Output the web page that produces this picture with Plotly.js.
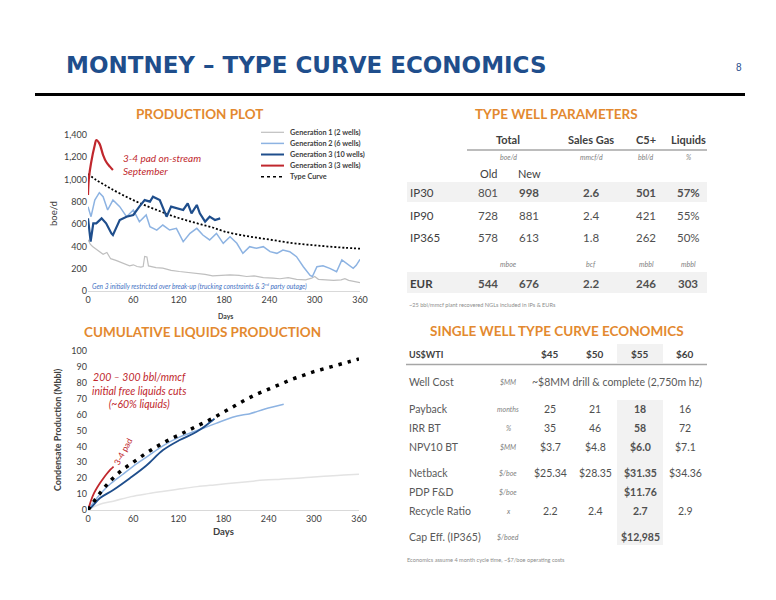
<!DOCTYPE html>
<html><head><meta charset="utf-8">
<script src="https://cdn.plot.ly/plotly-3.0.1.min.js"></script>
<style>html,body{margin:0;padding:0;background:#fff}#chart{width:776px;height:600px}</style>
</head><body><div id="chart"></div>
<script>
// ---------- PRODUCTION PLOT DATA (boe/d vs days) ----------
const gen1Days = [0,3,6,10,15,20,25,30,37,45,50,55,60,65,70,73,75,78,80,85,90,99,110,121,130,143,155,165,175,188,200,210,220,232,245,254,265,276,288,296,300,305,315,325,335,340,345,352,360];
const gen1Vals = [460,420,400,380,350,330,345,290,275,250,240,225,235,220,215,220,310,305,225,215,210,205,185,175,170,160,150,135,140,145,140,130,135,120,115,110,120,105,100,115,130,105,100,95,100,110,95,85,75];
const gen2Days = [0,4,9,15,20,26,33,42,51,60,68,77,82,91,99,108,117,126,135,144,152,161,170,179,188,197,205,214,223,232,241,250,258,267,276,285,294,297,303,311,320,329,336,342,351,355,360];
const gen2Vals = [756,667,816,882,846,727,816,757,667,727,622,682,577,547,592,547,562,443,517,562,502,458,517,428,487,428,338,398,383,398,353,338,368,353,308,218,140,130,218,227,203,173,278,248,203,230,284];
const gen3aDays = [0,3.5,7,11,18,24,31,33,37,42,51,60,68,75,82,86,95,102,104,110,119,126,132,137,144,148,155,161,168,175];
const gen3aVals = [652,443,607,607,652,607,517,502,562,637,667,682,757,816,802,846,816,697,667,757,742,727,787,697,772,697,622,667,637,652];
const gen3bDays = [0,1,4,9,11,15,20,24,29,33];
const gen3bVals = [861,1000,1146,1310,1355,1325,1220,1160,1116,1086];
const tcDays = [0,10,20,30,45,60,75,90,105,120,135,150,165,180,200,220,240,260,280,300,320,340,360];
const tcVals = [1050,1000,960,920,865,815,770,730,690,655,625,597,570,535,505,482,462,440,423,410,398,388,380];

// ---------- CUMULATIVE LIQUIDS DATA (Mbbl vs days) ----------
const cTcDays = [0,15,30,45,60,75,90,105,120,135,150,165,180,195,210,225,240,255,270,285,300,315,330,345,360];
const cTcVals = [0,10,18.5,25,30,35,39.5,43.5,47,50.5,54,57.5,61.5,65.5,69.5,73,76,79,82,84.5,87,89,91,93,95];
const cGen1Days = [0,10,20,35,57,80,101,123,145,168,190,212,234,256,278,300,320,340,360];
const cGen1Vals = [0,2.5,4.2,5.7,8.4,10.3,11.8,13.3,14.7,15.8,16.8,17.8,18.8,19.4,20,20.8,21.4,22,22.5];
const cGen2Days = [0,10,20,30,45,60,80,100,120,148,170,192,205,214,235,260];
const cGen2Vals = [0,6.5,12,16.5,22,27.5,34,40.5,45.5,50.5,54.5,58.3,59.8,60.4,63.5,66.5];
const cGen3aDays = [0,5,16,33.5,55.6,77.6,99.7,121.8,143.8,166,168];
const cGen3aVals = [0,2,7.5,12.6,20,28,37.7,44,49,56.6,57.5];
const cGen3bDays = [0,2,4,8,12,16,20,25,30,34];
const cGen3bVals = [0,3,6,10.6,14,17,19.7,22.8,25.5,27.3];

// ---------- TYPE WELL PARAMETERS ----------
const twpHeaders = ["Total","Sales Gas","C5+","Liquids"];
const twpUnitsRate = ["boe/d","mmcf/d","bbl/d","%"];
const twpUnitsVol = ["mboe","bcf","mbbl","mbbl"];
const twpRows = ["IP30","IP90","IP365"];
const twpOld = [801,728,578];
const twpNew = [998,881,613];
const twpGas = ["2.6","2.4","1.8"];
const twpC5 = [501,421,262];
const twpLiq = ["57%","55%","50%"];
const eurVals = ["544","676","2.2","246","303"];

// ---------- SINGLE WELL ECONOMICS ----------
const wtiPrices = ["$45","$50","$55","$60"];
const econLabels = ["Payback","IRR BT","NPV10 BT","Netback","PDP F&D","Recycle Ratio","Cap Eff. (IP365)"];
const econUnits = ["months","%","$MM","$/boe","$/boe","x","$/boed"];
const econVals = [
  ["25","21","18","16"],
  ["35","46","58","72"],
  ["$3.7","$4.8","$6.0","$7.1"],
  ["$25.34","$28.35","$31.35","$34.36"],
  ["","","$11.76",""],
  ["2.2","2.4","2.7","2.9"],
  ["","","$12,985",""]
];
const wellCostText = "~$8MM drill & complete (2,750m hz)";

// ---------- LAYOUT HELPERS ----------
const W = 776, H = 600;
const px = x => x / W;
const py = y => 1 - y / H;
const FONT = "Lato, 'Open Sans', sans-serif";
const GREY = "#404040", VALC = "#505050", ORANGE = "#E3892F", BLUE = "#1F4E8C";
const C_GEN1 = "#BFBFBF", C_GEN2 = "#8DB3E2", C_GEN3 = "#1F4E8C", C_RED = "#C0272D";

const annotations = [];
const shapes = [];
function ann(text, x, y, o) {
  o = o || {};
  annotations.push({
    text: text, x: px(x), y: py(y), xref: 'paper', yref: 'paper', showarrow: false,
    xanchor: o.xa || 'center', yanchor: 'middle', textangle: o.angle || 0,
    align: o.align || (o.xa === 'left' ? 'left' : 'center'),
    font: { family: o.family || FONT, size: o.size || 10, color: o.color || GREY }
  });
}
function hline(x0, x1, y, color, w, dash) {
  shapes.push({ type: 'line', xref: 'paper', yref: 'paper', x0: px(x0), x1: px(x1), y0: py(y), y1: py(y),
    line: { color: color, width: w, dash: dash || 'solid' } });
}
function rect(x0, x1, y0, y1, color) {
  shapes.push({ type: 'rect', xref: 'paper', yref: 'paper', x0: px(x0), x1: px(x1), y0: py(y1), y1: py(y0),
    fillcolor: color, line: { width: 0 }, layer: 'below' });
}

// Header
ann("<b>MONTNEY – TYPE CURVE ECONOMICS</b>", 64, 65, { xa: 'left', size: 23, color: BLUE, family: "'DejaVu Sans', 'Liberation Sans', sans-serif" });
ann("8", 739, 68, { size: 10, color: BLUE, family: "'Liberation Sans', Arial, sans-serif" });
hline(35, 745, 94.5, "#000000", 3);

// Section titles
ann("<b>PRODUCTION PLOT</b>", 200, 114, { size: 13.5, color: ORANGE });
ann("<b>TYPE WELL PARAMETERS</b>", 556, 114, { size: 13.5, color: ORANGE });
ann("<b>CUMULATIVE LIQUIDS PRODUCTION</b>", 202, 332, { size: 13.5, color: ORANGE });
ann("<b>SINGLE WELL TYPE CURVE ECONOMICS</b>", 557, 331, { size: 13.5, color: ORANGE });

// Production plot labels
ann("boe/d", 53, 213, { angle: -90, size: 9.5 });
ann("<b>Days</b>", 225, 316, { size: 7 });
ann("<i>3-4 pad on-stream<br>September</i>", 121, 164.5, { xa: 'left', size: 10, color: C_RED });
ann("<i>Gen 3 initially restricted over break-up (trucking constraints & 3<sup>rd</sup> party outage)</i>", 200, 285.5, { size: 6.6, color: "#4472C4" });

// Manual legend
const legItems = [
  ["Generation 1 (2 wells)", C_GEN1, 1.2, 'solid'],
  ["Generation 2 (6 wells)", C_GEN2, 1.5, 'solid'],
  ["Generation 3 (10 wells)", C_GEN3, 2, 'solid'],
  ["Generation 3 (3 wells)", C_RED, 2, 'solid'],
  ["Type Curve", "#000000", 1.5, 'dot']
];
legItems.forEach((it, i) => {
  const y = 132.3 + i * 11.1;
  hline(261, 284, y, it[1], it[2], it[3]);
  ann("<b>" + it[0] + "</b>", 288, y, { xa: 'left', size: 7.3, color: GREY });
});

// Cumulative plot labels
ann("<b>Condensate Production (Mbbl)</b>", 57, 430, { angle: -90, size: 9 });
ann("<b>Days</b>", 224, 531, { size: 9.5 });
ann("<i>200 – 300 bbl/mmcf<br>initial free liquids cuts<br>(~60% liquids)</i>", 139, 390, { size: 10.5, color: C_RED });
ann("3-4 pad", 123, 452, { angle: -62, size: 8.5, color: C_RED });

// Type well parameters table
const twpX = [508, 591, 646, 688];
const colX = [488, 529, 591, 646, 688];
rect(407, 707, 182, 202, "#F2F2F2");
rect(407, 707, 272, 293, "#F2F2F2");
hline(467, 707, 150, "#A6A6A6", 1.5);
twpHeaders.forEach((h, i) => ann("<b>" + h + "</b>", twpX[i], 139, { size: 11, color: GREY }));
twpUnitsRate.forEach((u, i) => ann("<i>" + u + "</i>", twpX[i], 157, { size: 7, color: "#7F7F7F" }));
ann("Old", 488, 173, { size: 11, color: GREY });
ann("New", 529, 173, { size: 11, color: GREY });
const rowY = [192, 215, 237];
twpRows.forEach((r, i) => {
  const y = rowY[i];
  const b = (i === 0);
  const wrap = v => b ? "<b>" + v + "</b>" : String(v);
  ann(r, 408, y, { xa: 'left', size: 11.5, color: GREY });
  ann(String(twpOld[i]), colX[0], y, { size: 11.5, color: VALC });
  ann(wrap(twpNew[i]), colX[1], y, { size: 11.5, color: VALC });
  ann(wrap(twpGas[i]), colX[2], y, { size: 11.5, color: VALC });
  ann(wrap(twpC5[i]), colX[3], y, { size: 11.5, color: VALC });
  ann(wrap(twpLiq[i]), colX[4], y, { size: 11.5, color: VALC });
});
twpUnitsVol.forEach((u, i) => ann("<i>" + u + "</i>", twpX[i], 264, { size: 7, color: "#7F7F7F" }));
ann("<b>EUR</b>", 408, 283, { xa: 'left', size: 11.5, color: GREY });
eurVals.forEach((v, i) => ann("<b>" + v + "</b>", colX[i], 283, { size: 11.5, color: VALC }));
ann("~25 bbl/mmcf plant recovered NGLs included in IPs & EURs", 407, 304, { xa: 'left', size: 5.6, color: "#8C8C8C" });

// Economics table
const ecX = [550, 595, 640, 685];
rect(617, 663, 344, 363, "#F2F2F2");
rect(617, 663, 400, 545, "#F2F2F2");
hline(406, 707, 364.5, "#A6A6A6", 1.5);
ann("<b>US$WTI</b>", 407, 354, { xa: 'left', size: 9, color: GREY });
wtiPrices.forEach((p, i) => ann("<b>" + p + "</b>", ecX[i], 354, { size: 10, color: GREY }));
ann("Well Cost", 407, 382, { xa: 'left', size: 10.5, color: "#595959" });
ann("<i>$MM</i>", 508, 382, { size: 7, color: "#7F7F7F" });
ann(wellCostText, 617, 382, { size: 10.5, color: "#595959" });
const ecY = [409, 428, 447, 473, 492, 511, 537];
econLabels.forEach((l, r) => {
  const y = ecY[r];
  ann(l, 407, y, { xa: 'left', size: 10.5, color: "#595959" });
  ann("<i>" + econUnits[r] + "</i>", 508, y, { size: 7, color: "#7F7F7F" });
  econVals[r].forEach((v, c) => {
    if (v === "") return;
    ann(c === 2 ? "<b>" + v + "</b>" : v, ecX[c], y, { size: 10.5, color: VALC });
  });
});
ann("Economics assume 4 month cycle time, ~$7/boe operating costs", 405, 559, { xa: 'left', size: 5.6, color: "#8C8C8C" });

// ---------- TRACES ----------
const traces = [
  { x: gen1Days, y: gen1Vals, mode: 'lines', line: { color: C_GEN1, width: 1.2 }, xaxis: 'x', yaxis: 'y' },
  { x: gen2Days, y: gen2Vals, mode: 'lines', line: { color: C_GEN2, width: 1.5 }, xaxis: 'x', yaxis: 'y' },
  { x: tcDays, y: tcVals, mode: 'lines', line: { color: '#000000', width: 1.8, dash: '2px,2px', shape: 'spline' }, xaxis: 'x', yaxis: 'y' },
  { x: gen3aDays, y: gen3aVals, mode: 'lines', line: { color: C_GEN3, width: 2.2 }, xaxis: 'x', yaxis: 'y' },
  { x: gen3bDays, y: gen3bVals, mode: 'lines', line: { color: C_RED, width: 2.2, shape: 'spline' }, xaxis: 'x', yaxis: 'y' },

  { x: cGen1Days, y: cGen1Vals, mode: 'lines', line: { color: '#E3E3E3', width: 1.5, shape: 'spline' }, xaxis: 'x2', yaxis: 'y2' },
  { x: cGen2Days, y: cGen2Vals, mode: 'lines', line: { color: C_GEN2, width: 1.5, shape: 'spline' }, xaxis: 'x2', yaxis: 'y2' },
  { x: cGen3aDays, y: cGen3aVals, mode: 'lines', line: { color: C_GEN3, width: 1.8, shape: 'spline' }, xaxis: 'x2', yaxis: 'y2' },
  { x: cGen3bDays, y: cGen3bVals, mode: 'lines', line: { color: C_RED, width: 1.8, shape: 'spline' }, xaxis: 'x2', yaxis: 'y2' },
  { x: cTcDays, y: cTcVals, mode: 'lines', line: { color: '#000000', width: 3.5, dash: '3.5px,6px', shape: 'spline' }, xaxis: 'x2', yaxis: 'y2' }
];
traces.forEach(t => { t.showlegend = false; t.hoverinfo = 'skip'; });

const tickFont = { family: FONT, size: 9, color: GREY };
const layout = {
  width: W, height: H, margin: { l: 0, r: 0, t: 0, b: 0 },
  paper_bgcolor: '#ffffff', plot_bgcolor: 'rgba(0,0,0,0)', showlegend: false,
  xaxis: { domain: [px(88), px(360)], range: [0, 360], tickvals: [0,60,120,180,240,300,360], showgrid: false, zeroline: false,
    showline: true, linecolor: '#D9D9D9', linewidth: 1, ticks: '', tickfont: tickFont, anchor: 'y', automargin: false, fixedrange: true },
  yaxis: { domain: [py(291), py(135)], range: [0, 1400], dtick: 200, tickformat: ',d', showgrid: false, zeroline: false,
    showline: false, ticks: '', tickfont: tickFont, anchor: 'x', automargin: false, fixedrange: true },
  xaxis2: { domain: [px(88), px(359)], range: [0, 360], tickvals: [0,60,120,180,240,300,360], showgrid: false, zeroline: false,
    showline: true, linecolor: '#D9D9D9', linewidth: 1, ticks: '', tickfont: tickFont, anchor: 'y2', automargin: false, fixedrange: true },
  yaxis2: { domain: [py(510), py(351)], range: [0, 100], dtick: 10, showgrid: false, zeroline: false,
    showline: false, ticks: '', tickfont: tickFont, anchor: 'x2', automargin: false, fixedrange: true },
  annotations: annotations,
  shapes: shapes
};
Plotly.newPlot('chart', traces, layout, { staticPlot: true, displayModeBar: false });
</script>
</body></html>
